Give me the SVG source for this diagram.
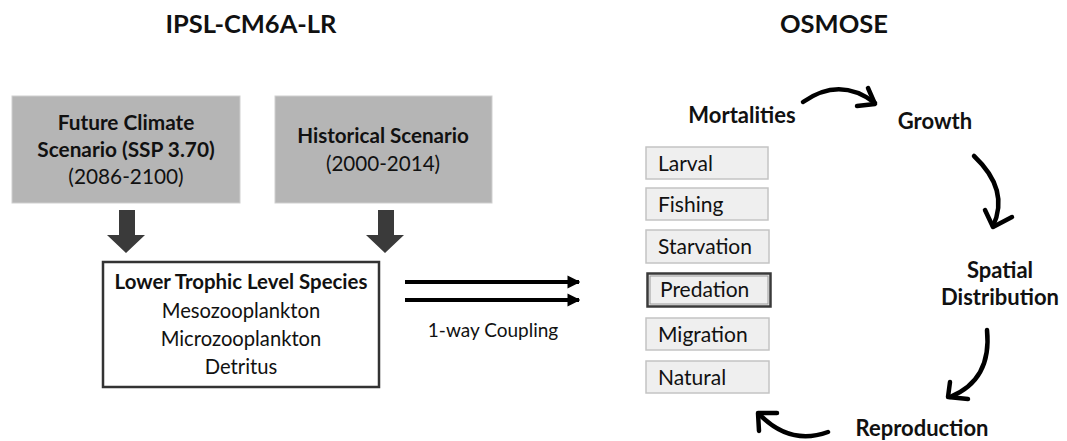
<svg xmlns="http://www.w3.org/2000/svg" width="1067" height="441" viewBox="0 0 1067 441">
<style>
text{font-family:Lato,"Open Sans","Liberation Sans",sans-serif;fill:#111}
.b{font-weight:bold}
.t{font-size:25.5px;font-weight:bold;text-anchor:middle}
.c{text-anchor:middle}
.s{fill:#b5b5b5;stroke:#cfcfcf;stroke-width:1}
.m{fill:#efefef;stroke:#c4c4c4;stroke-width:1.5}
.mt{font-size:21px}
.o{font-size:22px;font-weight:bold;text-anchor:middle}
.cur{fill:none;stroke:#000;stroke-width:4.5;stroke-linecap:round;stroke-linejoin:round}
</style>
<defs>
<marker id="ah" viewBox="0 0 10 10" refX="9" refY="5" markerWidth="3.2" markerHeight="3.6" orient="auto" markerUnits="strokeWidth">
<path d="M0,0 L10,5 L0,10 z" fill="#000"/>
</marker>
</defs>
<rect width="1067" height="441" fill="#fff"/>
<g id="title-ipsl"><text class="t" x="251" y="33">IPSL-CM6A-LR</text></g>
<g id="title-osmose"><text class="t" x="834" y="33">OSMOSE</text></g>

<g id="future">
<rect class="s" x="12" y="96" width="228" height="107"/>
<text class="c b" font-size="20.8" x="126" y="130">Future Climate</text>
<text class="c b" font-size="20.8" x="126" y="157">Scenario (SSP 3.70)</text>
<text class="c" font-size="20.8" x="126" y="184">(2086-2100)</text>
</g>
<g id="historical">
<rect class="s" x="275" y="96" width="217" height="107"/>
<text class="c b" font-size="20.6" x="383" y="143">Historical Scenario</text>
<text class="c" font-size="20.6" x="383" y="171">(2000-2014)</text>
</g>
<g id="lower">
<rect x="103" y="262" width="276" height="125" fill="#fff" stroke="#333" stroke-width="2.5"/>
<text class="c b" font-size="20.4" x="241" y="289">Lower Trophic Level Species</text>
<text class="c" font-size="20.2" x="241" y="318">Mesozooplankton</text>
<text class="c" font-size="20.2" x="241" y="346">Microzooplankton</text>
<text class="c" font-size="20.2" x="241" y="374">Detritus</text>
</g>

<g id="mortalities"><text class="o" x="742" y="123">Mortalities</text></g>
<g id="larval"><rect class="m" x="646" y="147" width="122" height="32"/><text class="mt" x="658" y="171">Larval</text></g>
<g id="fishing"><rect class="m" x="646" y="188" width="122" height="32"/><text class="mt" x="658" y="212">Fishing</text></g>
<g id="starvation"><rect class="m" x="646" y="230" width="123" height="33"/><text class="mt" x="658" y="254">Starvation</text></g>
<g id="predation"><rect x="647.5" y="273.5" width="123" height="33" fill="#efefef" stroke="#3a3a3a" stroke-width="2.5"/><rect x="650" y="276" width="118" height="28" fill="none" stroke="#9a9a9a" stroke-width="1"/><text class="mt" x="660" y="297">Predation</text></g>
<g id="migration"><rect class="m" x="646" y="318" width="123" height="32"/><text class="mt" x="658" y="342">Migration</text></g>
<g id="natural"><rect class="m" x="646" y="361" width="123" height="32"/><text class="mt" x="658" y="385">Natural</text></g>

<g id="growth"><text class="o" x="935" y="129">Growth</text></g>
<g id="spatial"><text class="o" x="1000" y="278">Spatial</text><text class="o" x="1000" y="305">Distribution</text></g>
<g id="reproduction"><text class="o" x="922" y="436">Reproduction</text></g>
<g id="coupling-label"><text class="c" font-size="19" x="493" y="337">1-way Coupling</text></g>

<g id="connectors">
<path d="M119,210 H135 V235 H145 L126,253 L107,235 H119 Z" fill="#3a3a3a"/>
<path d="M378,210 H394 V235 H404 L385,253 L366,235 H378 Z" fill="#3a3a3a"/>
<line x1="405" y1="282" x2="579" y2="282" stroke="#000" stroke-width="4" marker-end="url(#ah)"/>
<line x1="405" y1="300" x2="579" y2="300" stroke="#000" stroke-width="4" marker-end="url(#ah)"/>
<path class="cur" d="M803,102 Q840,76 875,103"/>
<path class="cur" d="M868,88 L875,104 L857,106"/>
<path class="cur" d="M974,156 Q1010,190 993,226"/>
<path class="cur" d="M985,210 L993,227 L1012,217"/>
<path class="cur" d="M987,330 Q992,380 950,397"/>
<path class="cur" d="M950,382 L948,397 L968,399"/>
<path class="cur" d="M828,432 Q790,446 759,414"/>
<path class="cur" d="M777,413 L758,413 L759,431"/>
</g>
</svg>
